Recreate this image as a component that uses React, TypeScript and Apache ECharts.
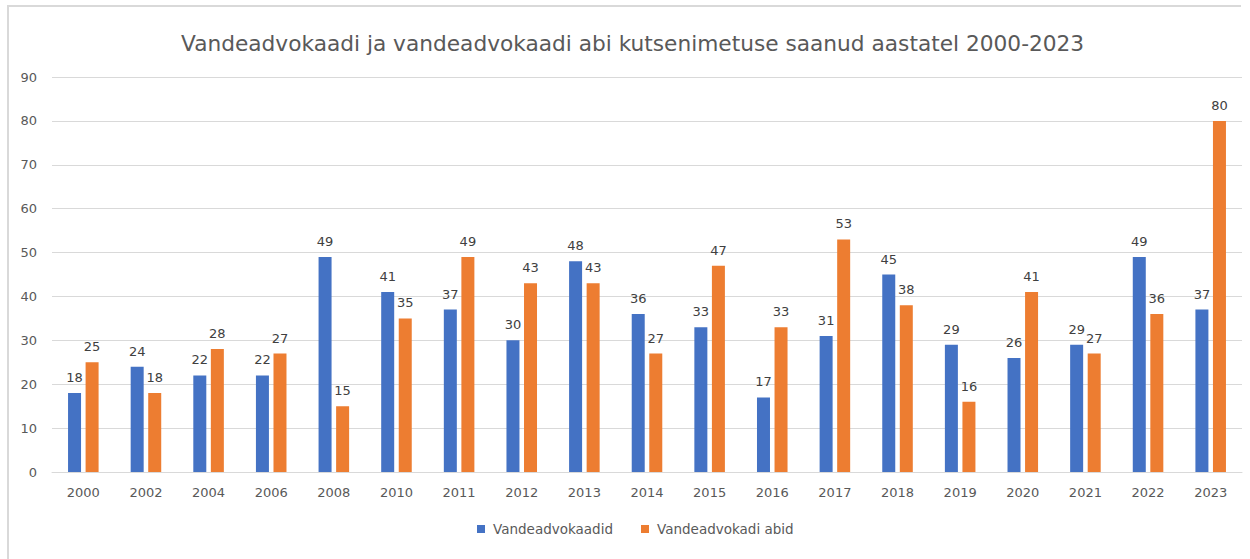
import React, { useEffect, useRef } from "react";
import * as echarts from "echarts";

const years = ["2000","2002","2004","2006","2008","2010","2011","2012","2013","2014","2015","2016","2017","2018","2019","2020","2021","2022","2023"];
const vandeadvokaadid = [18,24,22,22,49,41,37,30,48,36,33,17,31,45,29,26,29,49,37];
const abid = [25,18,28,27,15,35,49,43,43,27,47,33,53,38,16,41,27,36,80];
const titleText = "Vandeadvokaadi ja vandeadvokaadi abi kutsenimetuse saanud aastatel 2000-2023";

export default function App() {
  const ref = useRef<HTMLDivElement>(null);
  useEffect(() => {
    const chart = echarts.init(ref.current!, null, { renderer: "svg" });
    const font = "'DejaVu Sans', sans-serif";
    const label = { show: true, position: "top", color: "#404040", fontSize: 13, fontFamily: font, distance: 9 };
    chart.setOption({
      animation: false,
      textStyle: { fontFamily: font },
      title: {
        text: titleText, left: 176, top: 27,
        textStyle: { fontSize: 21.7, fontWeight: "normal", color: "#595959", fontFamily: font },
      },
      legend: {
        bottom: 18, left: 472, itemWidth: 8, itemHeight: 8, itemGap: 28, icon: "rect",
        textStyle: { fontSize: 13.5, color: "#595959", fontFamily: font, padding: [0, 0, 0, 3] },
      },
      grid: { left: 52, right: 8, top: 77, bottom: 87 },
      xAxis: {
        type: "category", data: years,
        axisLine: { lineStyle: { color: "#d9d9d9" } },
        axisTick: { show: false },
        axisLabel: { color: "#595959", fontSize: 13, margin: 14 },
      },
      yAxis: {
        type: "value", min: 0, max: 90, interval: 10,
        axisLabel: { color: "#595959", fontSize: 13, margin: 15 },
        splitLine: { lineStyle: { color: "#d9d9d9" } },
      },
      series: [
        { name: "Vandeadvokaadid", type: "bar", data: vandeadvokaadid, barWidth: 13, barGap: "35%", itemStyle: { color: "#4472C4" }, label },
        { name: "Vandeadvokadi abid", type: "bar", data: abid, barWidth: 13, barGap: "35%", itemStyle: { color: "#ED7D31" }, label },
      ],
      graphic: [
        { type: "polyline", shape: { points: [[8, 559], [8, 6], [1241, 6]] }, style: { stroke: "#d9d9d9", lineWidth: 2, fill: null } },
      ],
    });
    return () => chart.dispose();
  }, []);
  return <div ref={ref} style={{ position: "absolute", left: 0, top: 0, width: 1250, height: 559 }} />;
}
